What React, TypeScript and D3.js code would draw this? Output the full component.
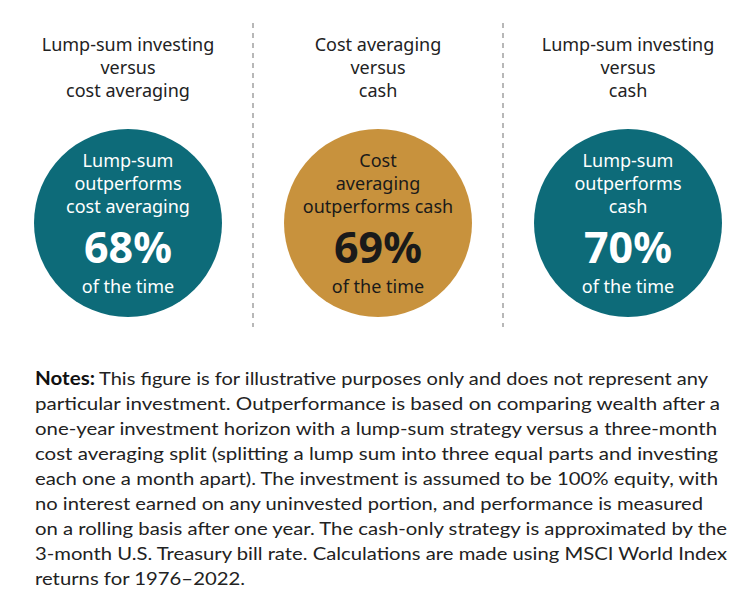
import { useRef, useEffect } from "react";
import * as d3 from "d3";

// panel content
const panels = ["lumpVsCost", "costVsCash", "lumpVsCash"];
const titles = [
  ["Lump-sum investing", "versus", "cost averaging"],
  ["Cost averaging", "versus", "cash"],
  ["Lump-sum investing", "versus", "cash"],
];
const circleLabels = [
  ["Lump-sum", "outperforms", "cost averaging"],
  ["Cost", "averaging", "outperforms cash"],
  ["Lump-sum", "outperforms", "cash"],
];
const percents = [68, 69, 70];
const circleFills = ["#0d6b79", "#c8923d"];
const textFills = ["#ffffff", "#1a1a1a"];
const circleKind = [0, 1, 0];

const notesLead = "Notes:";
const notesLines = [
  "This figure is for illustrative purposes only and does not represent any",
  "particular investment. Outperformance is based on comparing wealth after a",
  "one-year investment horizon with a lump-sum strategy versus a three-month",
  "cost averaging split (splitting a lump sum into three equal parts and investing",
  "each one a month apart). The investment is assumed to be 100% equity, with",
  "no interest earned on any uninvested portion, and performance is measured",
  "on a rolling basis after one year. The cash-only strategy is approximated by the",
  "3-month U.S. Treasury bill rate. Calculations are made using MSCI World Index",
  "returns for 1976\u20132022.",
];
// right edge of each notes line
const notesEnds = [708, 720, 717, 718, 718, 703, 727, 727, 245];

const W = 750;
const H = 599;
const FONT = "Lato, 'Open Sans', sans-serif";
const HEAD_FONT = "'Noto Sans', 'Open Sans', sans-serif";

export default function App() {
  const svgRef = useRef(null);

  useEffect(() => {
    const svg = d3.select(svgRef.current);
    svg.selectAll("*").remove();

    const x = d3.scaleBand().domain(panels).range([3, 753]);
    const cx = (p) => x(p) + x.bandwidth() / 2;
    const r = 94;
    const cy = 223;

    // dashed dividers between panels
    svg.append("g")
      .selectAll("line")
      .data(panels.slice(1))
      .enter()
      .append("line")
      .attr("x1", (d) => x(d))
      .attr("x2", (d) => x(d))
      .attr("y1", 23)
      .attr("y2", 327)
      .attr("stroke", "#b8b8b8")
      .attr("stroke-width", 2)
      .attr("stroke-dasharray", "5 5");

    const panel = svg.append("g")
      .selectAll("g.panel")
      .data(panels)
      .enter()
      .append("g")
      .attr("class", "panel")
      .attr("transform", (d) => `translate(${cx(d)},0)`);

    panel.each(function (d, i) {
      const g = d3.select(this);
      titles[i].forEach((t, j) => {
        g.append("text")
          .attr("x", 0)
          .attr("y", 51 + j * 23)
          .attr("text-anchor", "middle")
          .attr("font-size", 18)
          .attr("font-family", HEAD_FONT)
          .attr("fill", "#222")
          .text(t);
      });

      const k = circleKind[i];
      g.append("circle")
        .attr("cx", 0)
        .attr("cy", cy)
        .attr("r", r)
        .attr("fill", circleFills[k]);

      circleLabels[i].forEach((t, j) => {
        g.append("text")
          .attr("x", 0)
          .attr("y", 167 + j * 23)
          .attr("text-anchor", "middle")
          .attr("font-size", 18)
          .attr("font-family", HEAD_FONT)
          .attr("fill", textFills[k])
          .text(t);
      });

      g.append("text")
        .attr("x", 0)
        .attr("y", 263)
        .attr("text-anchor", "middle")
        .attr("font-size", 43)
        .attr("font-weight", "bold")
        .attr("font-family", HEAD_FONT)
        .attr("fill", textFills[k])
        .text(`${percents[i]}%`);

      g.append("text")
        .attr("x", 0)
        .attr("y", 293)
        .attr("text-anchor", "middle")
        .attr("font-size", 18)
        .attr("font-family", HEAD_FONT)
        .attr("fill", textFills[k])
        .text("of the time");
    });

    // notes
    const notes = svg.append("g");
    const left = 35;
    const y = d3.scaleLinear().domain([0, 1]).range([385, 410]);

    notes.append("text")
      .attr("x", left)
      .attr("y", y(0))
      .attr("font-size", 18)
      .attr("font-weight", "bold")
      .attr("font-family", FONT)
      .attr("fill", "#111")
      .attr("textLength", 60)
      .attr("lengthAdjust", "spacingAndGlyphs")
      .text(notesLead);

    notes.selectAll("text.line")
      .data(notesLines)
      .enter()
      .append("text")
      .attr("class", "line")
      .attr("x", (d, i) => (i === 0 ? 99 : left))
      .attr("y", (d, i) => y(i))
      .attr("font-size", 18)
      .attr("font-family", FONT)
      .attr("fill", "#222")
      .attr("textLength", (d, i) => notesEnds[i] - (i === 0 ? 99 : left))
      .attr("lengthAdjust", "spacingAndGlyphs")
      .text((d) => d);
  }, []);

  return (
    <svg
      ref={svgRef}
      width={W}
      height={H}
      style={{ position: "absolute", left: 0, top: 0, background: "#fff" }}
    />
  );
}
